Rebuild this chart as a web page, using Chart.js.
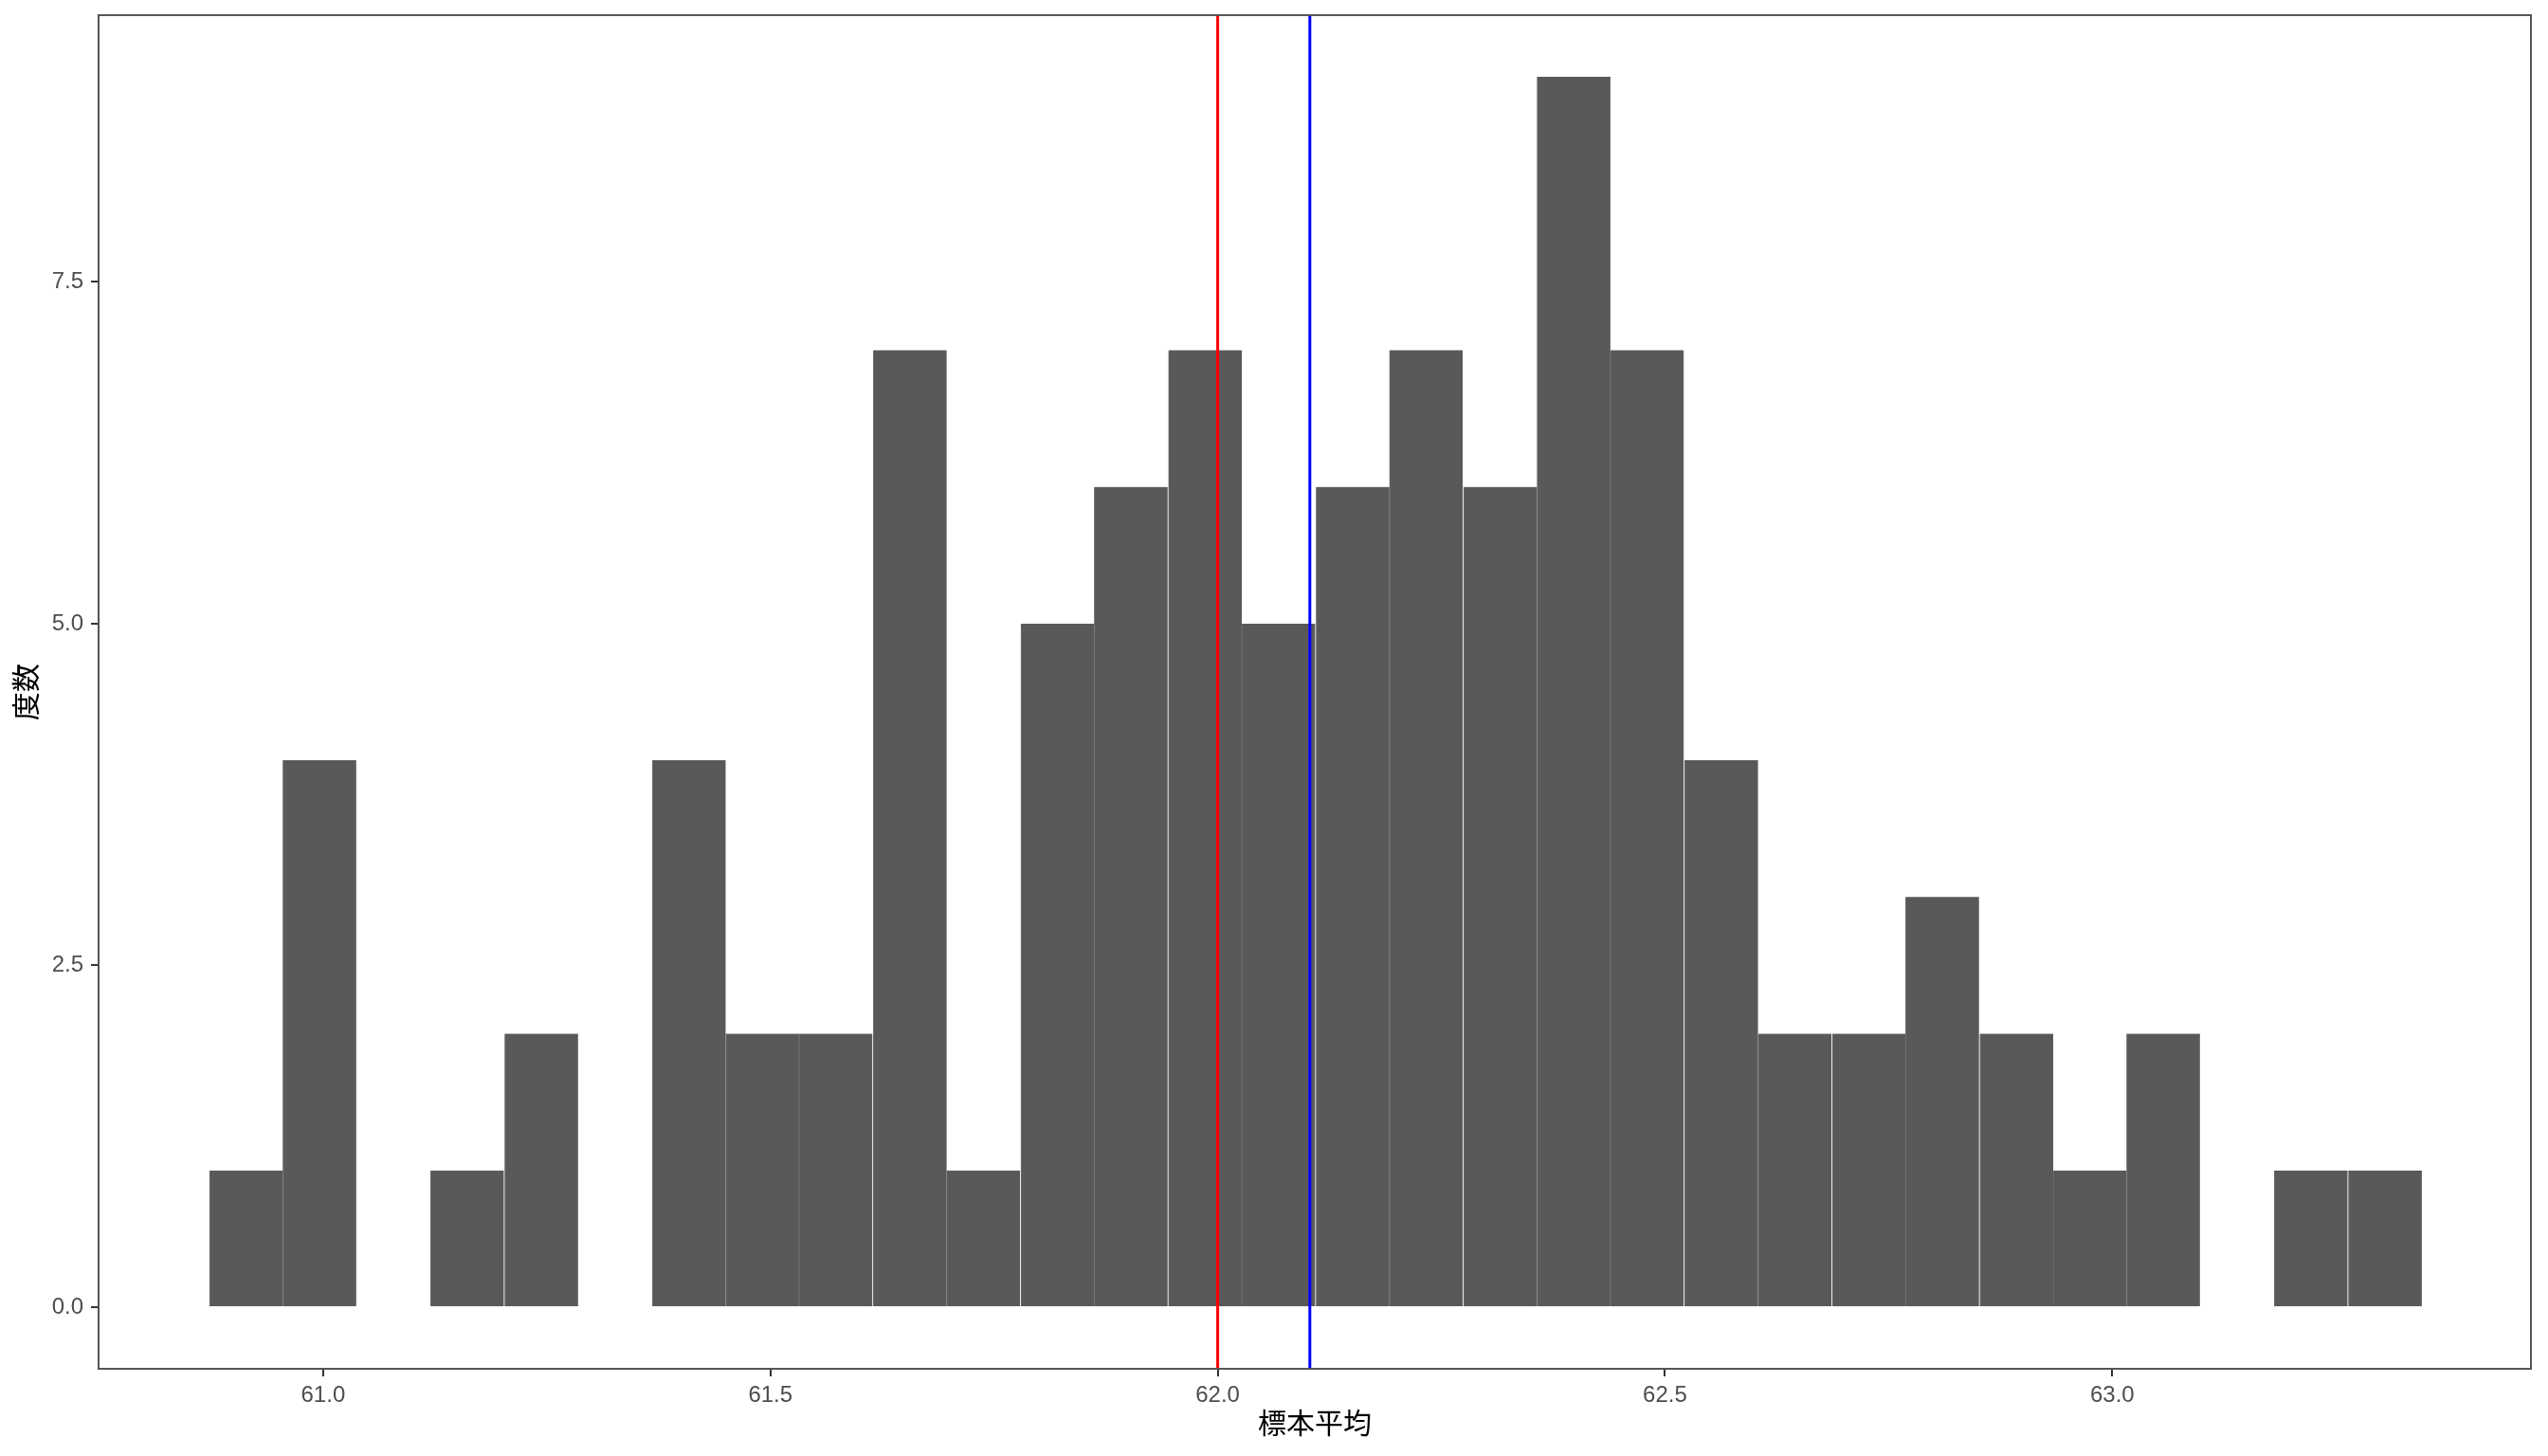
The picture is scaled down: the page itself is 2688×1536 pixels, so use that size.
<!DOCTYPE html>
<html>
<head>
<meta charset="utf-8">
<script src="https://cdn.jsdelivr.net/npm/chart.js@4"></script>
<style>
  html, body { margin: 0; padding: 0; background: #ffffff; }
  canvas { display: block; }
</style>
</head>
<body>
<canvas id="hist" width="2688" height="1536"></canvas>
<script>
// bin centres of the histogram (30 bins)
const binCenters = [60.914, 60.996, 61.079, 61.161, 61.244, 61.326, 61.409, 61.491, 61.573, 61.656,
                    61.738, 61.821, 61.903, 61.986, 62.068, 62.151, 62.233, 62.316, 62.398, 62.480,
                    62.563, 62.645, 62.728, 62.810, 62.893, 62.975, 63.057, 63.140, 63.222, 63.305]
const counts = [1, 4, 0, 1, 2, 0, 4, 2, 2, 7,
                1, 5, 6, 7, 5, 6, 7, 6, 9, 7,
                4, 2, 2, 3, 2, 1, 2, 0, 1, 1]

const xTicks = [61.0, 61.5, 62.0, 62.5, 63.0]
const yTicks = [0, 2.5, 5, 7.5]

// red = 62.0, blue = sample mean
const refLines = [62.0, 62.103]
const refColors = ["#ff0000", "#0000ff"]

const xRange = [60.749, 63.468]
const yRange = [-0.45, 9.45]

const tickFont = { family: "'Liberation Sans', Arial, sans-serif", size: 24 }
const titleFont = { family: "'Noto Sans CJK JP', sans-serif", size: 30 }

// panel border + vertical reference lines
const panelPlugin = {
    id: "panel",
    afterDatasetsDraw(chart) {
        const ctx = chart.ctx
        const area = chart.chartArea
        const xs = chart.scales.x
        ctx.save()
        ctx.lineWidth = 3
        refLines.forEach(function (v, i) {
            const px = xs.getPixelForValue(v)
            ctx.strokeStyle = refColors[i]
            ctx.beginPath()
            ctx.moveTo(px, area.top)
            ctx.lineTo(px, area.bottom)
            ctx.stroke()
        })
        ctx.strokeStyle = "#555555"
        ctx.lineWidth = 2
        ctx.strokeRect(area.left, area.top, area.right - area.left, area.bottom - area.top)
        ctx.restore()
    }
}

const histData = {
    datasets: [{
        label: "度数",
        data: binCenters.map(function (x, i) { return { x: x, y: counts[i] } }),
        backgroundColor: "#595959",
        borderColor: "#707070",
        borderWidth: { left: 1, right: 0, top: 0, bottom: 0 },
        borderSkipped: false,
        barPercentage: 1,
        categoryPercentage: 1
    }]
}

const config = {
    type: "bar",
    data: histData,
    options: {
        responsive: false,
        animation: false,
        devicePixelRatio: 1,
        layout: { padding: { top: 16, right: 18, bottom: 0, left: 0 } },
        plugins: {
            legend: { display: false },
            tooltip: { enabled: false }
        },
        scales: {
            x: {
                type: "linear",
                min: xRange[0],
                max: xRange[1],
                offset: false,
                afterBuildTicks: function (scale) { scale.ticks = xTicks.map(function (v) { return { value: v } }) },
                afterFit: function (scale) { scale.height = 92 },
                ticks: {
                    color: "#4d4d4d",
                    font: tickFont,
                    padding: 6,
                    maxRotation: 0,
                    callback: function (v) { return Number(v).toFixed(1) }
                },
                grid: { offset: false, drawOnChartArea: false, drawTicks: true, tickLength: 8, color: "#333333", lineWidth: 2 },
                border: { display: false },
                title: { display: true, text: "標本平均", color: "#000000", font: titleFont, padding: { top: 0, bottom: 17 } }
            },
            y: {
                type: "linear",
                min: yRange[0],
                max: yRange[1],
                afterBuildTicks: function (scale) { scale.ticks = yTicks.map(function (v) { return { value: v } }) },
                afterFit: function (scale) {
                    scale.width = 104
                    scale.paddingTop = 0
                    scale.paddingBottom = 0
                },
                ticks: {
                    color: "#4d4d4d",
                    font: tickFont,
                    padding: 8,
                    callback: function (v) { return Number(v).toFixed(1) }
                },
                grid: { drawOnChartArea: false, drawTicks: true, tickLength: 8, color: "#333333", lineWidth: 2 },
                border: { display: false },
                title: { display: true, text: "度数", color: "#000000", font: titleFont, padding: { top: 9, bottom: 0 } }
            }
        }
    },
    plugins: [panelPlugin]
}

const histChart = new Chart(document.getElementById("hist").getContext("2d"), config)
</script>
</body>
</html>
